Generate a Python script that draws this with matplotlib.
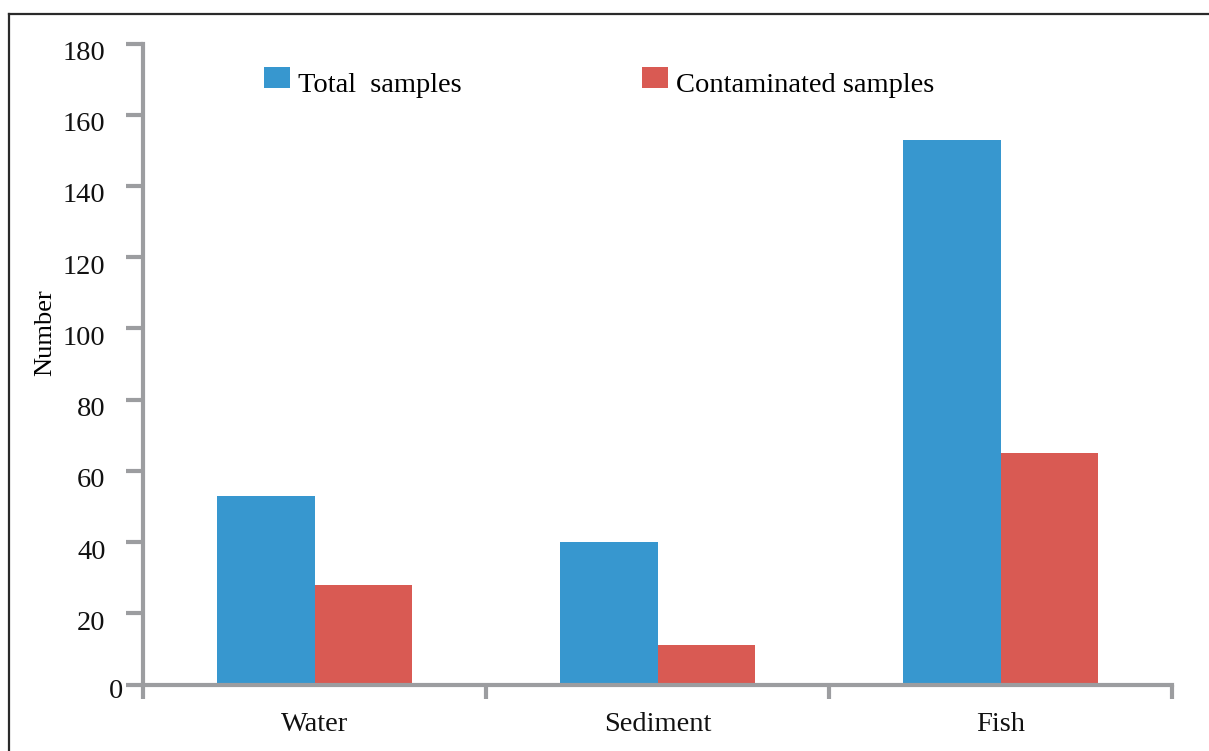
import matplotlib
matplotlib.use("Agg")
import matplotlib.pyplot as plt
import numpy as np
from matplotlib.lines import Line2D
from matplotlib.patches import Rectangle
from matplotlib.legend_handler import HandlerPatch
from matplotlib.transforms import ScaledTranslation

categories = ["Water", "Sediment", "Fish"]
total_samples = [53, 40, 153]
contaminated_samples = [28, 11, 65]
series_labels = ["Total  samples", "Contaminated samples"]
yticks = [0, 20, 40, 60, 80, 100, 120, 140, 160, 180]

plt.rcParams["font.family"] = ["Liberation Serif", "DejaVu Serif"]
BLUE = "#3797CF"
RED = "#D95A53"
AXC = "#9C9DA0"
FS = 20.5

fig = plt.figure(figsize=(12.09, 7.51), dpi=100)
W, H = 1209, 751
ax = fig.add_axes([143 / W, 1 - 684.5 / H, (1172 - 143) / W, (684.5 - 43.5) / H])

x = np.arange(len(categories))
bw = 0.284
b1 = ax.bar(x - bw / 2, total_samples, bw, color=BLUE, label=series_labels[0])
b2 = ax.bar(x + bw / 2, contaminated_samples, bw, color=RED, label=series_labels[1])

ax.set_xlim(-0.5, 2.5)
ax.set_ylim(0, 180)
for s in ["top", "right"]:
    ax.spines[s].set_visible(False)
for s in ["left", "bottom"]:
    ax.spines[s].set_color(AXC)
    ax.spines[s].set_linewidth(3)
    ax.spines[s].set_capstyle("projecting")

ax.set_yticks(yticks)
ax.set_yticklabels([str(v) for v in yticks])
ax.tick_params(axis="y", direction="out", length=12, width=3, color=AXC,
               labelsize=FS, pad=15, labelcolor="#111111")
ax.set_xticks(x)
ax.set_xticklabels(categories)
ax.tick_params(axis="x", which="major", length=0, labelsize=FS, pad=20,
               labelcolor="#111111")
ax.set_xticks([-0.5, 0.5, 1.5, 2.5], minor=True)
ax.tick_params(axis="x", which="minor", direction="out", length=10, width=3, color=AXC)

for lab in ax.get_yticklabels():
    off = ScaledTranslation(0, -7 / 100, fig.dpi_scale_trans)
    if lab.get_text() == "0":
        off = ScaledTranslation(18 / 100, -4 / 100, fig.dpi_scale_trans)
    lab.set_transform(lab.get_transform() + off)

ax.set_ylabel("Number", fontsize=19)
ax.yaxis.set_label_coords(-87 / (1172 - 143), (684.5 - 333) / (684.5 - 43.5))


class RaisedSquare(HandlerPatch):
    def create_artists(self, legend, orig_handle, xdescent, ydescent, width,
                       height, fontsize, trans):
        ph = 15.0
        y0 = -ydescent + (height - ph) / 2 + 3.2
        r = Rectangle((-xdescent, y0), width, ph,
                      facecolor=orig_handle.get_facecolor(), edgecolor="none",
                      transform=trans)
        return [r]


h1, h2 = b1.patches[0], b2.patches[0]
leg = ax.legend(handles=[h1, h2], labels=series_labels, ncol=2, frameon=False,
                fontsize=FS, handlelength=0.9, handleheight=0.8,
                handletextpad=0.28, columnspacing=6.35, borderpad=0, borderaxespad=0,
                loc="upper left", bbox_to_anchor=(264 / W, 1 - 71 / H),
                bbox_transform=fig.transFigure,
                handler_map={h1: RaisedSquare(), h2: RaisedSquare()})

# frame lines of the figure
fig.add_artist(Line2D([9 / W, 1], [1 - 14 / H, 1 - 14 / H], color="#2a2a2a", lw=1.6,
                      transform=fig.transFigure))
fig.add_artist(Line2D([9 / W, 9 / W], [0, 1 - 14 / H], color="#2a2a2a", lw=1.6,
                      transform=fig.transFigure))

fig.savefig("out.png", dpi=100)
